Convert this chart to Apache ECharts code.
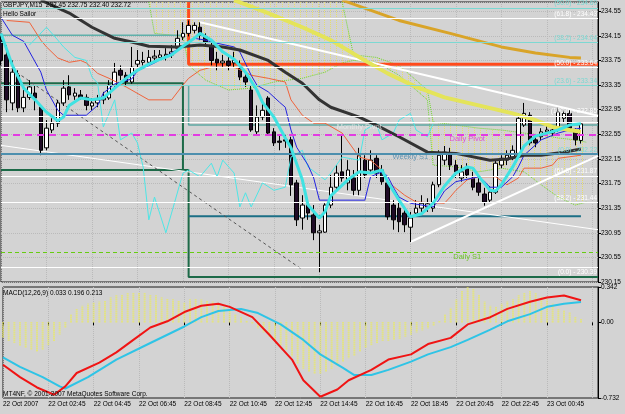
<!DOCTYPE html>
<html>
<head>
<meta charset="utf-8">
<script src="https://cdn.jsdelivr.net/npm/echarts@6/dist/echarts.min.js"></script>
<style>
  html, body { margin: 0; padding: 0; background: #d3d3d3; }
  #chart { width: 625px; height: 414px; }
</style>
</head>
<body>
<div id="chart"></div>
<script>
// time axis: one tick label every 8 bars (2 hours of M15)
const timeLabels = ['22 Oct 2007', '22 Oct 02:45', '22 Oct 04:45', '22 Oct 06:45', '22 Oct 08:45', '22 Oct 10:45',
  '22 Oct 12:45', '22 Oct 14:45', '22 Oct 16:45', '22 Oct 18:45', '22 Oct 20:45', '22 Oct 22:45', '23 Oct 00:45'];
const barCount = 106; // 103 bars + empty shift on the right

// GBPJPY M15 candles
const opens = [234.08,233.84,233.06,233.51,232.98,233.15,233.22,232.99,232.33,232.62,
  232.73,233.06,233.32,233.17,233.19,233.15,233.01,233.06,233.11,233.14,
  233.35,233.59,233.51,233.40,233.69,233.72,233.72,233.79,233.80,233.82,
  233.84,233.95,234.13,234.19,234.24,234.29,234.14,233.98,233.77,233.71,
  233.74,233.71,233.63,233.48,233.27,232.59,232.83,233.14,232.59,232.44,
  232.46,232.46,231.76,231.19,231.40,231.24,230.95,230.96,231.40,231.69,
  231.94,231.76,231.84,231.64,232.13,231.97,232.16,231.97,231.76,231.40,
  231.35,231.27,231.04,231.27,231.35,231.37,231.35,231.73,232.13,232.24,
  232.05,231.84,232.00,231.84,231.76,231.58,231.48,231.61,232.05,232.13,
  232.18,232.24,232.70,232.86,232.46,232.51,232.59,232.57,232.62,232.81,
  232.89,232.59,232.45];
const closes = [233.75,233.11,233.56,232.98,233.15,233.32,233.14,232.29,232.65,232.73,
  233.06,233.30,233.19,233.22,233.15,233.02,233.06,233.11,233.14,233.35,
  233.56,233.51,233.40,233.64,233.75,233.75,233.80,233.82,233.84,233.85,
  233.89,234.11,234.19,234.32,234.32,234.16,234.05,233.75,233.71,233.74,
  233.67,233.75,233.48,233.40,232.62,232.83,232.94,232.57,232.41,232.42,
  232.44,231.73,231.16,231.40,231.27,230.95,230.98,231.40,231.69,231.92,
  231.84,231.97,231.64,232.21,231.89,232.13,231.92,231.78,231.21,231.16,
  231.13,231.08,231.19,231.35,231.43,231.42,231.73,232.21,232.26,232.05,
  231.94,231.94,231.89,231.69,231.61,231.45,231.61,232.08,232.16,232.21,
  232.29,232.81,232.89,232.41,232.41,232.59,232.62,232.62,232.91,232.89,
  232.65,232.46,232.72];
const lows = [233.67,232.91,232.94,232.91,232.91,233.11,232.94,232.21,232.29,232.57,
  232.67,233.01,233.11,233.11,233.11,232.94,232.94,232.99,233.04,233.11,
  233.30,233.43,233.33,233.37,233.63,233.67,233.67,233.72,233.75,233.75,
  233.79,233.89,234.08,234.14,234.19,234.08,233.98,233.67,233.59,233.63,
  233.59,233.64,233.43,233.32,232.59,232.55,232.78,232.54,232.36,232.29,
  232.33,231.55,231.06,231.00,231.16,230.83,230.31,230.95,231.35,231.64,
  231.78,231.64,231.56,231.56,231.84,231.94,231.84,231.73,231.16,231.00,
  230.96,230.96,230.80,231.22,231.29,231.29,231.29,231.69,232.05,231.97,
  231.84,231.78,231.84,231.64,231.55,231.39,231.45,231.58,232.00,232.05,
  232.13,232.21,232.67,232.37,232.34,232.46,232.54,232.52,232.59,232.75,
  232.62,232.37,232.40];
const highs = [234.16,234.00,233.75,233.59,233.27,233.43,233.35,233.02,232.78,232.81,
  233.11,233.43,233.51,233.30,233.27,233.20,233.14,233.19,233.24,233.43,
  233.71,233.67,233.56,233.97,233.92,233.89,233.92,233.92,233.92,233.95,
  234.00,234.24,234.37,234.40,234.37,234.37,234.19,234.08,233.89,233.84,
  233.84,233.89,233.75,233.53,233.35,233.02,233.11,233.17,232.65,232.54,
  232.54,232.51,231.81,231.56,231.51,231.40,231.08,231.43,231.89,232.05,
  232.54,232.13,231.97,232.33,232.21,232.29,232.21,232.05,231.81,231.48,
  231.48,231.35,231.29,231.48,231.56,231.51,231.78,232.29,232.36,232.33,
  232.13,232.05,232.08,231.94,231.84,231.68,231.71,232.13,232.21,232.29,
  232.37,232.89,233.06,232.91,232.54,232.65,232.68,232.67,232.98,232.94,
  232.94,232.65,232.75];

// indicator lines, read at sample bars: [bar index], [price]
const fastIdx = [0,2,4,6,8,10,11,12,14,16,18,20,22,24,26,28,30,32,34,35,37,39,41,43,45,46,48,50,51,53,54,56,57,58,61,63,65,67,68,70,72,74,76,78,80,82,83,84,86,87,88,90,92,94,96,98,100,102];
const fastVal = [234.19,233.67,233.30,233.11,232.91,232.77,232.83,233.02,233.14,233.11,233.14,233.30,233.46,233.59,233.69,233.77,233.84,233.98,234.11,234.19,234.08,233.89,233.77,233.56,233.27,233.07,232.83,232.49,232.33,231.81,231.40,231.19,231.29,231.55,231.81,231.94,231.92,231.97,231.78,231.48,231.21,231.26,231.43,231.71,231.92,232.02,232.00,231.87,231.64,231.63,231.73,232.02,232.36,232.52,232.57,232.62,232.70,232.72];
const blueIdx = [0,2,4,7,8,10,11,15,17,18,20,23,24,27,30,33,34,36,37,41,42,44,45,47,49,50,51,52,54,55,56,64,65,67,68,69,70,72,76,77,78,80,84,85,86,88,90,91,92,95,98,100,102];
const blueVal = [234.45,234.16,234.06,233.56,233.27,232.94,232.86,232.86,233.02,233.22,233.37,233.45,233.58,233.71,233.87,234.05,234.11,234.08,234.05,233.97,233.89,233.51,233.35,233.24,233.07,232.99,232.62,232.34,232.05,231.84,231.48,231.48,231.86,231.94,231.87,231.69,231.53,231.43,231.37,231.48,231.63,231.78,231.86,231.79,231.69,231.69,231.86,232.02,232.21,232.46,232.57,232.62,232.65];
const redIdx = [1,5,7,8,10,12,14,15,17,19,22,26,30,32,33,35,37,41,43,44,47,50,51,53,55,57,60,63,65,67,68,71,73,78,79,80,82,84,87,89,91,92,95,97,98,102];
const redVal = [234.40,234.37,234.08,233.97,233.79,233.72,233.75,233.71,233.54,233.46,233.32,233.11,233.11,233.35,233.46,233.59,233.64,233.64,233.56,233.51,233.46,233.40,233.11,232.86,232.73,232.73,232.57,232.18,232.13,231.97,231.78,231.56,231.45,231.43,231.53,231.64,231.81,231.86,231.86,231.73,231.84,232.00,232.00,232.05,232.16,232.21];
const chikouIdx = [5,8,10,11,13,15,16,17,18,19,20,21,23,24,25,26,27,29,30,32,33,35,37,38,39,41,42,43,44,46,48,50,51,53,54,57,58,60,63,64,66,67,69,70,72,73,75,76];
const chikouVal = [234.00,234.29,234.08,233.97,233.80,233.75,233.48,233.38,232.67,232.89,233.11,232.46,232.57,232.41,232.02,231.16,231.53,230.95,231.27,231.92,231.97,231.86,232.08,231.86,232.13,231.92,231.37,231.60,231.37,231.76,231.64,231.69,232.18,232.29,232.02,231.81,231.92,232.18,232.13,232.62,232.73,232.46,232.57,232.78,232.89,232.62,232.51,232.72];
const slowIdx = [7,12,16,20,23,26,31,35,39,42,47,50,53,56,58,63,66,70,75,80,86,89,92,95,99,102];
const slowVal = [234.73,234.52,234.29,234.11,234.05,233.98,233.97,234.00,233.97,233.92,233.75,233.56,233.38,233.11,232.99,232.83,232.70,232.51,232.26,232.24,232.13,232.15,232.21,232.21,232.26,232.31];
const yellowIdx = [41,47,53,58,64,68,73,78,84,90,94,97,100,102];
const yellowVal = [234.73,234.52,234.29,234.08,233.75,233.54,233.32,233.15,233.02,232.89,232.78,232.67,232.62,232.59];
const orangeIdx = [60,70,79,88,94,100,102];
const orangeVal = [234.73,234.40,234.19,233.97,233.87,233.80,233.79];

// ichimoku cloud edges
const cloudIdx = [26,27,32,33,36,40,44,48,53,57,60,62,66,70,74,75,76,80,84,88,92,95,98,101,103];
const cloudTop = [234.70,234.70,234.70,234.70,234.70,234.70,234.70,234.70,234.70,234.70,234.70,233.84,233.80,233.67,233.35,233.27,232.75,232.70,232.65,232.62,232.57,232.54,232.49,232.46,232.42];
const cloudBottom = [234.70,234.19,234.14,233.67,233.43,233.27,233.30,233.40,233.46,233.56,233.71,233.75,233.72,233.51,233.19,233.11,232.05,232.02,231.94,232.00,231.94,231.73,231.53,231.40,231.45];

// drawn objects
const trendUpper = [[35, 234.37], [105, 232.85]];
const trendLower = [[72, 230.80], [105, 232.20]];
const trendThin = [[0, 232.37], [105, 231.00]];
const trendDotted = [[1, 233.67], [53, 230.35]];
const greenBoxA = [[0, 233.38], [32, 233.38], [32, 231.97]];
const greenBoxB = [[0, 231.97], [33, 231.97], [33, 230.23], [105, 230.23]];
const tealStep = [[33, 233.35], [33, 232.70], [105, 232.70]];
const redStep = [[33, 234.70], [33, 233.69], [105, 233.69]];
const tealTop = [[0, 234.16], [32, 234.16]];
const blueLevel = [[33, 231.22], [102, 231.22]];

// fibonacci levels
const fibPrices = [234.60, 234.43, 234.04, 233.64, 233.34, 232.85, 232.22, 231.87, 231.44, 230.39];
const fibTexts = ['(50.0) - 234.60', '(61.8) - 234.43', '(38.2) - 234.04', '(50.0) - 233.64', '(23.6) - 233.34',
  '(100.0) - 232.85', '(0.0) - 232.22', '(61.8) - 231.87', '(38.2) - 231.44', '(0.0) - 230.39'];
// pivots and price tags
const pivotPrices = [232.74, 232.54, 232.24, 230.63];
const tagPrices = [232.74, 232.54, 232.24, 230.63, 230.29];
const noteTexts = ['Monthly Pivot', 'Daily Pivot', 'Weekly S1', 'Daily S1'];
const noteBars = [63, 82, 72, 82];
const notePrices = [232.67, 232.48, 232.18, 230.56];

// MACD panel
const macdHist = [-0.15,-0.18,-0.20,-0.23,-0.25,-0.27,-0.28,-0.27,-0.22,-0.18,-0.12,-0.05,
  0.08,0.13,0.16,0.18,0.195,0.20,0.21,0.24,0.26,0.27,0.28,0.285,0.29,0.285,0.27,0.26,0.24,0.23,0.22,0.21,0.195,0.22,0.23,
  0.22,0.21,0.20,0.18,0.15,0.12,0.08,0.05,0.02,
  -0.02,-0.06,-0.10,-0.14,-0.18,-0.22,-0.27,-0.33,-0.40,-0.45,-0.48,-0.50,-0.50,-0.48,-0.45,-0.42,-0.38,-0.35,-0.32,-0.28,-0.25,-0.22,-0.20,-0.18,-0.18,-0.17,-0.16,-0.14,-0.12,-0.10,-0.08,-0.06,-0.03,0.01,
  0.08,0.14,0.22,0.30,0.34,0.32,0.27,0.20,0.16,0.15,0.18,0.20,0.22,0.26,0.29,0.30,0.28,0.25,0.22,0.18,0.13,0.12,0.10,0.05,0.033];
const macdRedIdx = [0,3,6,9,11,13,17,20,23,26,29,32,35,38,40,44,47,51,53,56,59,61,65,68,72,75,79,82,86,89,93,96,99,102];
const macdRedVal = [-0.41,-0.53,-0.63,-0.70,-0.62,-0.49,-0.39,-0.29,-0.17,-0.05,0.01,0.10,0.16,0.18,0.15,0.05,-0.12,-0.36,-0.56,-0.72,-0.65,-0.56,-0.46,-0.36,-0.31,-0.21,-0.15,-0.02,0.05,0.13,0.20,0.24,0.26,0.213];
const macdCyanIdx = [0,3,7,10,11,15,20,26,32,35,38,42,45,49,53,56,60,62,65,68,72,75,79,82,86,89,93,96,99,102];
const macdCyanVal = [-0.34,-0.43,-0.53,-0.62,-0.64,-0.53,-0.36,-0.20,-0.04,0.05,0.11,0.13,0.09,-0.02,-0.17,-0.31,-0.44,-0.51,-0.51,-0.46,-0.38,-0.31,-0.24,-0.17,-0.07,0.01,0.08,0.15,0.18,0.196];
const macdTicks = [-0.732, 0, 0.342];

const chart = echarts.init(document.getElementById('chart'));
const cats = Array.from({length: barCount}, (_, i) => i);
const pair = (idx, vals) => idx.map((x, k) => [x, vals[k]]);
const FONT = 'Liberation Sans';

// yellow dotted hatch for the cloud
const hatch = document.createElement('canvas');
hatch.width = 6; hatch.height = 2;
const hctx = hatch.getContext('2d');
hctx.fillStyle = '#e6de6c';
hctx.fillRect(0, 0, 1, 1);

const gridLine = {color: '#bababa', type: 'dotted', width: 1};

function plain(name, data, color, width, z, type) {
  return {
    name, type: 'line', data, xAxisIndex: 0, yAxisIndex: 0, z: z || 3,
    showSymbol: false, symbol: 'none', silent: true, clip: true,
    lineStyle: {color, width, type: type || 'solid'}
  };
}

const fibCyan = [true, false, true, false, true, false, true, false, false, false];
const levelLines = [];
fibPrices.forEach((p, k) => {
  const c = fibCyan[k] ? '#7cd8d2' : '#ffffff';
  levelLines.push({
    yAxis: p,
    lineStyle: {color: c, width: 1, type: 'solid'},
    label: {show: true, formatter: fibTexts[k], position: k === 9 ? 'insideEndBottom' : 'insideEndTop',
      distance: 1, color: c, fontSize: 6.5, fontFamily: FONT}
  });
});
const pivotStyle = [
  {color: '#ffffff', width: 1, type: 'solid'},
  {color: '#e23ce2', width: 2, type: [7, 5]},
  {color: '#4d8fae', width: 2, type: 'solid'},
  {color: '#66cc11', width: 1, type: [4, 3]}
];
pivotPrices.forEach((p, k) => {
  levelLines.push({yAxis: p, lineStyle: pivotStyle[k], label: {show: false}});
});
const tagStyle = [
  {bg: '#ffffff', fg: '#c4c4c4'},
  {bg: '#ff1aff', fg: '#ffe0ff'},
  {bg: '#4a80ad', fg: '#c9d9ea'},
  {bg: '#38cc38', fg: '#e4ffe4'},
  {bg: '#c8c8c8', fg: '#f2f2f2'}
];
tagPrices.forEach((p, k) => {
  levelLines.push({
    yAxis: p, lineStyle: {opacity: 0, width: 0},
    label: {show: true, position: 'end', distance: 1, formatter: p.toFixed(2),
      backgroundColor: tagStyle[k].bg, color: tagStyle[k].fg, fontSize: 7, fontFamily: FONT,
      padding: [1, 2, 0, 2]}
  });
});
const noteColors = ['#eeeeee', '#e02cd8', '#4a86aa', '#55c000'];

const option = {
  animation: false,
  backgroundColor: '#d3d3d3',
  textStyle: {fontFamily: FONT},
  grid: [
    {left: 1, right: 27, top: 2, height: 280, show: true, borderColor: '#1a1a1a', borderWidth: 1},
    {left: 1, right: 27, top: 287, height: 111, show: true, borderColor: '#1a1a1a', borderWidth: 1}
  ],
  xAxis: [
    {type: 'category', gridIndex: 0, data: cats, boundaryGap: false,
      axisLine: {show: false}, axisTick: {show: false}, axisLabel: {show: false},
      splitLine: {show: true, interval: 7, lineStyle: gridLine}},
    {type: 'category', gridIndex: 1, data: cats, boundaryGap: false,
      axisLine: {show: false},
      axisTick: {show: true, interval: 7, length: 3, lineStyle: {color: '#000'}},
      axisLabel: {interval: 7, align: 'left', margin: 3, fontSize: 6.5, color: '#000', hideOverlap: false,
        formatter: v => timeLabels[Number(v) / 8] || ''},
      splitLine: {show: true, interval: 7, lineStyle: gridLine}}
  ],
  yAxis: [
    {type: 'value', gridIndex: 0, position: 'right', min: 230.15, max: 234.70, interval: 0.4, scale: true,
      axisLine: {show: true, lineStyle: {color: '#000'}},
      axisTick: {show: true, length: 3, lineStyle: {color: '#000'}},
      axisLabel: {fontSize: 6.5, color: '#000', margin: 3, showMaxLabel: false, formatter: v => v.toFixed(2)},
      splitLine: {show: true, lineStyle: gridLine}},
    {type: 'value', gridIndex: 1, position: 'right', min: -0.732, max: 0.342,
      axisLine: {show: true, lineStyle: {color: '#000'}},
      axisTick: {show: true, length: 3, customValues: macdTicks, lineStyle: {color: '#000'}},
      axisLabel: {fontSize: 6.5, color: '#000', margin: 3, customValues: macdTicks,
        formatter: v => (Math.abs(v) < 1e-9 ? '0.00' : v.toFixed(3))},
      splitLine: {show: false}}
  ],
  graphic: [
    {type: 'text', left: 3, top: 2, style: {text: 'GBPJPY,M15  232.45 232.75 232.40 232.72', fill: '#000', font: '6.5px "Liberation Sans"'}, z: 100},
    {type: 'text', left: 3, top: 11, style: {text: 'Hello Sailor', fill: '#000', font: '6.5px "Liberation Sans"'}, z: 100},
    {type: 'text', left: 3, top: 290, style: {text: 'MACD(12,26,9) 0.033 0.196 0.213', fill: '#000', font: '6.5px "Liberation Sans"'}, z: 100},
    {type: 'text', left: 3, top: 391, style: {text: 'MT4NF, \u00a9 2001-2007 MetaQuotes Software Corp.', fill: '#000', font: '6.5px "Liberation Sans"'}, z: 100}
  ],
  series: [
    // cloud hatch
    {type: 'custom', xAxisIndex: 0, yAxisIndex: 0, z: 1, silent: true,
      data: [[cloudIdx[0], cloudTop[0]]],
      renderItem: (params, api) => {
        const top = cloudIdx.map((x, k) => api.coord([x, cloudTop[k]]));
        const bot = cloudIdx.map((x, k) => api.coord([x, cloudBottom[k]])).reverse();
        return {type: 'polygon', shape: {points: top.concat(bot)},
          style: {fill: {image: hatch, repeat: 'repeat'}}};
      }},
    plain('spanLow', pair(cloudIdx, cloudBottom), '#6fd62a', 1, 2, 'dotted'),
    plain('spanHigh', pair(cloudIdx.slice(10), cloudTop.slice(10)), '#6fd62a', 1, 2, 'dotted'),
    // level lines
    {type: 'line', xAxisIndex: 0, yAxisIndex: 0, z: 2, data: closes, showSymbol: false, symbol: 'none',
      silent: true, lineStyle: {opacity: 0},
      markLine: {symbol: ['none', 'none'], silent: true, animation: false, data: levelLines}},
    plain('tealTop', tealTop, '#5fb0aa', 1.5, 2),
    plain('greenA', greenBoxA, '#1d6a48', 2, 2),
    plain('greenB', greenBoxB, '#1d6a48', 2, 2),
    plain('tealStep', tealStep, '#5fa8a2', 1.5, 2),
    plain('blueLevel', blueLevel, '#1b6f86', 2, 2),
    plain('redStep', redStep, '#ff4a1c', 3, 2),
    plain('trendThin', trendThin, '#ffffff', 1, 2),
    plain('trendDotted', trendDotted, '#555555', 1, 2, [3, 3]),
    plain('trendUpper', trendUpper, '#ffffff', 2, 2),
    plain('trendLower', trendLower, '#ffffff', 2, 2),
    // candles
    {type: 'candlestick', xAxisIndex: 0, yAxisIndex: 0, z: 3, barWidth: 4, silent: true,
      data: opens.map((o, i) => [o, closes[i], lows[i], highs[i]]),
      itemStyle: {color: '#ffffff', color0: '#1f0b26', borderColor: '#000000', borderColor0: '#000000', borderWidth: 1}},
    // indicators
    plain('chikou', pair(chikouIdx, chikouVal), '#4ee6e6', 1, 4),
    plain('kijun', pair(redIdx, redVal), '#f0643c', 1, 4),
    plain('tenkan', pair(blueIdx, blueVal), '#2323e0', 1, 4),
    plain('slow', pair(slowIdx, slowVal), '#333333', 3, 4),
    plain('yellow', pair(yellowIdx, yellowVal), '#e4e45a', 4, 4),
    plain('orange', pair(orangeIdx, orangeVal), '#d9a428', 3, 4),
    plain('fast', pair(fastIdx, fastVal), '#40e2e2', 3, 5),
    // notes on the pivot lines
    {type: 'scatter', xAxisIndex: 0, yAxisIndex: 0, z: 6, silent: true, symbolSize: 1,
      itemStyle: {color: 'rgba(0,0,0,0)'},
      data: noteTexts.map((t, k) => ({name: t, value: [noteBars[k], notePrices[k]],
        label: {color: noteColors[k]}})),
      label: {show: true, position: 'inside', formatter: '{b}', fontSize: 7.5, fontFamily: FONT},
      labelLayout: {hideOverlap: false}},
    // MACD
    {type: 'custom', xAxisIndex: 1, yAxisIndex: 1, z: 2, silent: true,
      data: macdHist.map((v, i) => [i, v]),
      renderItem: (params, api) => {
        const p0 = api.coord([api.value(0), 0]);
        const p1 = api.coord([api.value(0), api.value(1)]);
        return {type: 'line', shape: {x1: p0[0], y1: p0[1], x2: p1[0], y2: p1[1]},
          style: {stroke: '#ecec5a', lineWidth: 2, lineDash: [1, 1]}};
      }},
    {type: 'line', xAxisIndex: 1, yAxisIndex: 1, z: 3, data: pair(macdCyanIdx, macdCyanVal), showSymbol: false,
      symbol: 'none', silent: true, lineStyle: {color: '#2ec4e6', width: 2}},
    {type: 'line', xAxisIndex: 1, yAxisIndex: 1, z: 4, data: pair(macdRedIdx, macdRedVal), showSymbol: false,
      symbol: 'none', silent: true, lineStyle: {color: '#f01414', width: 2}}
  ]
};

chart.setOption(option);
</script>
</body>
</html>
